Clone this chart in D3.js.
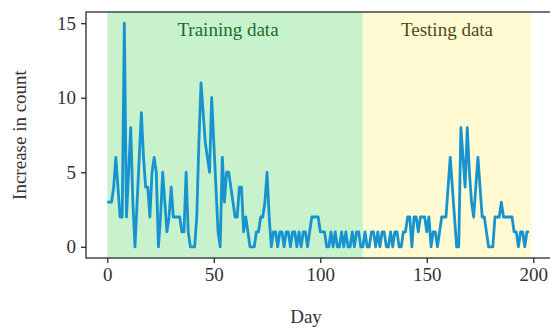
<!DOCTYPE html>
<html>
<head>
<meta charset="utf-8">
<script src="https://cdn.jsdelivr.net/npm/d3@7"></script>
<style>
  body { margin: 0; background: #fff; }
  svg { display: block; font-family: "Liberation Serif", "DejaVu Serif", serif; }
</style>
</head>
<body>
<div id="chart"></div>
<script>
// daily increase in count, day 0..198
var counts = [
  3, 3, 3, 4, 6, 4, 2, 2, 15, 2,
  5, 8, 3, 0, 3, 6, 9, 6, 4, 4,
  2, 5, 6, 5, 0, 2, 5, 3, 1, 2,
  4, 2, 2, 2, 2, 1, 1, 5, 1, 0,
  0, 0, 2, 7, 11, 9, 7, 6, 5, 10,
  7, 4, 1, 0, 6, 3, 5, 5, 4, 3,
  2, 2, 4, 4, 1, 2, 1, 0, 0, 0,
  1, 1, 2, 2, 3, 5, 2, 0, 1, 1,
  0, 1, 1, 0, 1, 1, 0, 1, 1, 0,
  1, 0, 1, 1, 0, 1, 2, 2, 2, 2,
  1, 1, 1, 0, 0, 1, 0, 1, 0, 0,
  1, 0, 1, 0, 0, 1, 0, 1, 1, 0,
  0, 1, 0, 0, 1, 1, 0, 1, 0, 1,
  1, 0, 0, 1, 0, 1, 1, 0, 0, 1,
  1, 2, 2, 0, 2, 2, 1, 2, 2, 2,
  1, 2, 0, 1, 1, 0, 1, 2, 2, 2,
  4, 6, 4, 2, 0, 0, 8, 6, 4, 8,
  5, 3, 2, 4, 6, 4, 2, 2, 1, 0,
  0, 0, 2, 2, 2, 3, 2, 2, 2, 2,
  2, 1, 1, 0, 1, 1, 0, 1, 1
];
var days = counts.map(function(d, i) { return i; });

// shaded periods
var periods = [
  {label: "Training data", start: 0, end: 120, fill: "#c8f2cc", text: "#1d6b2a", cx: 228},
  {label: "Testing data", start: 120, end: 199, fill: "#fffad2", text: "#4e4a12", cx: 447}
];

var xTicks = [0, 50, 100, 150, 200];
var yTicks = [0, 5, 10, 15];

var width = 550, height = 329;
var margin = {top: 12, left: 86, bottom: 71};

var svg = d3.select("#chart")
  .append("svg")
    .attr("width", width)
    .attr("height", height);

var x = d3.scaleLinear()
  .domain([-10, 210])
  .range([margin.left, margin.left + 220 * 2.13]);

var y = d3.scaleLinear()
  .domain([-0.75, 15.75])
  .range([height - margin.bottom, margin.top]);

var yTop = y(15.75), yBottom = y(-0.75);

// background spans
svg.selectAll("rect.period")
  .data(periods)
  .enter()
  .append("rect")
    .attr("class", "period")
    .attr("x", function(d) { return x(d.start); })
    .attr("width", function(d) { return x(d.end) - x(d.start); })
    .attr("y", yTop)
    .attr("height", yBottom - yTop)
    .style("fill", function(d) { return d.fill; });

svg.selectAll("text.period")
  .data(periods)
  .enter()
  .append("text")
    .attr("class", "period")
    .attr("x", function(d) { return d.cx; })
    .attr("y", 36)
    .attr("text-anchor", "middle")
    .style("font-size", "19px")
    .style("fill", function(d) { return d.text; })
    .text(function(d) { return d.label; });

// the series
var line = d3.line()
  .x(function(d, i) { return x(days[i]); })
  .y(function(d) { return y(d); });

svg.append("path")
  .datum(counts)
  .attr("d", line)
  .style("fill", "none")
  .style("stroke", "#1793cf")
  .style("stroke-width", 2.8)
  .style("stroke-linejoin", "round");

// frame
svg.append("rect")
  .attr("x", x(-10))
  .attr("y", yTop)
  .attr("width", x(210) - x(-10))
  .attr("height", yBottom - yTop)
  .style("fill", "none")
  .style("stroke", "#2a2a2a")
  .style("stroke-width", 1.3);

// axes
var xAxis = svg.append("g")
  .attr("transform", "translate(0," + yBottom + ")")
  .call(d3.axisBottom(x).tickValues(xTicks).tickSize(5).tickPadding(5));

var yAxis = svg.append("g")
  .attr("transform", "translate(" + x(-10) + ",0)")
  .call(d3.axisLeft(y).tickValues(yTicks).tickSize(5).tickPadding(5));

[xAxis, yAxis].forEach(function(g) {
  g.select(".domain").remove();
  g.selectAll("line").style("stroke", "#2a2a2a").style("stroke-width", 1.3);
  g.selectAll("text")
    .style("font-family", "Liberation Serif, serif")
    .style("font-size", "19px")
    .style("fill", "#333");
});

svg.append("text")
  .attr("x", 306)
  .attr("y", 323)
  .attr("text-anchor", "middle")
  .style("font-size", "19px")
  .style("fill", "#333")
  .text("Day");

svg.append("text")
  .attr("transform", "translate(26," + (y(7.5)) + ") rotate(-90)")
  .attr("text-anchor", "middle")
  .style("font-size", "19px")
  .style("fill", "#333")
  .text("Increase in count");
</script>
</body>
</html>
